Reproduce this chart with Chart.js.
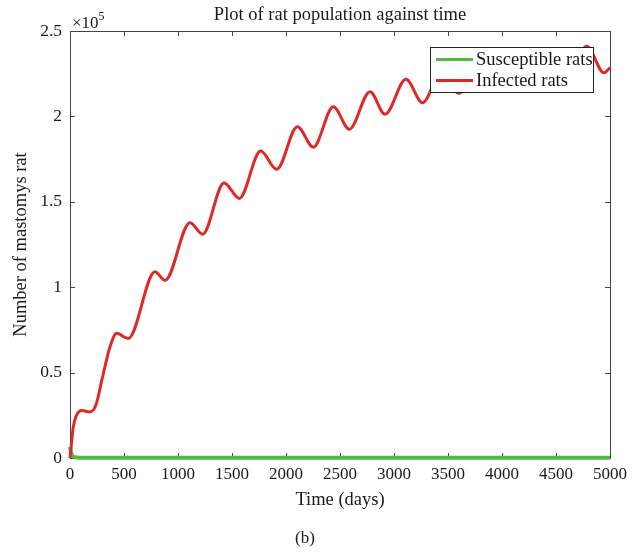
<!DOCTYPE html>
<html>
<head>
<meta charset="utf-8">
<script src="https://cdn.jsdelivr.net/npm/chart.js@4.4.0/dist/chart.umd.min.js"></script>
<style>
  html, body { margin: 0; padding: 0; background: #fff; }
</style>
</head>
<body>
<canvas id="ratChart" width="635" height="554"></canvas>
<script>
  // values (rats, days)
  const infectedDays = [0, 30, 60, 110, 185, 240, 300, 370, 432, 540, 787, 880, 1111, 1228, 1426, 1568,
    1765, 1914, 2105, 2253, 2438, 2586, 2778, 2917, 3111, 3265, 3445, 3600, 3780, 3935, 4115, 4270,
    4450, 4610, 4785, 4945, 5000];
  const infectedRats = [0, 18000, 25000, 27800, 27000, 31000, 47000, 65000, 73000, 70000, 109000, 104000,
    137800, 131000, 161000, 152000, 179700, 169000, 194000, 182000, 205700, 192500, 214500, 201200,
    221700, 208000, 227000, 213500, 231000, 218000, 234500, 221000, 237500, 224000, 241000, 225500, 228500];

  const susceptibleDays = [0, 10, 25, 50, 100, 200, 500, 1000, 1500, 2000, 2500, 3000, 3500, 4000, 4500, 5000];
  const susceptibleRats = [6500, 3000, 1000, 400, 200, 120, 100, 100, 100, 100, 100, 100, 100, 100, 100, 100];

  const xTicks = [0, 500, 1000, 1500, 2000, 2500, 3000, 3500, 4000, 4500, 5000];
  const yTicks = [0, 50000, 100000, 150000, 200000, 250000];

  const serif = "'Liberation Serif', 'Times New Roman', serif";
  const ink = '#1a1a1a';

  const toPoints = (xs, ys) => xs.map((x, i) => ({ x: x, y: ys[i] }));

  // MATLAB style box with inward ticks
  const boxTicks = {
    id: 'boxTicks',
    beforeDatasetsDraw(chart) {
      const { ctx, chartArea: a, scales } = chart;
      const len = 5;
      ctx.save();
      ctx.strokeStyle = '#444';
      ctx.lineWidth = 1;
      ctx.strokeRect(a.left + 0.5, a.top + 0.5, a.right - a.left, a.bottom - a.top);
      ctx.beginPath();
      xTicks.forEach(v => {
        const px = Math.round(scales.x.getPixelForValue(v)) + 0.5;
        ctx.moveTo(px, a.bottom); ctx.lineTo(px, a.bottom - len);
        ctx.moveTo(px, a.top); ctx.lineTo(px, a.top + len);
      });
      yTicks.forEach(v => {
        const py = Math.round(scales.y.getPixelForValue(v)) + 0.5;
        ctx.moveTo(a.left, py); ctx.lineTo(a.left + len, py);
        ctx.moveTo(a.right, py); ctx.lineTo(a.right - len, py);
      });
      ctx.stroke();

      // exponent label
      ctx.fillStyle = ink;
      ctx.textBaseline = 'alphabetic';
      ctx.textAlign = 'left';
      ctx.font = '17px ' + serif;
      ctx.fillText('\u00d710', a.left + 2, a.top - 3);
      const w = ctx.measureText('\u00d710').width;
      ctx.font = '12px ' + serif;
      ctx.fillText('5', a.left + 2 + w, a.top - 11);
      ctx.restore();
    }
  };

  // boxed legend inside the plot, top right
  const boxLegend = {
    id: 'boxLegend',
    afterDatasetsDraw(chart) {
      const { ctx } = chart;
      const bx = 430, by = 47, bw = 163, bh = 45;
      ctx.save();
      ctx.fillStyle = '#fff';
      ctx.fillRect(bx, by, bw, bh);
      ctx.strokeStyle = '#222';
      ctx.lineWidth = 1;
      ctx.strokeRect(bx + 0.5, by + 0.5, bw, bh);
      ctx.font = '18.5px ' + serif;
      ctx.textBaseline = 'middle';
      ctx.textAlign = 'left';
      chart.data.datasets.forEach((ds, i) => {
        const y = by + 12.5 + i * 21;
        ctx.strokeStyle = ds.borderColor;
        ctx.lineWidth = 3;
        ctx.beginPath();
        ctx.moveTo(bx + 6, y);
        ctx.lineTo(bx + 43, y);
        ctx.stroke();
        ctx.fillStyle = ink;
        ctx.fillText(ds.label, bx + 46, y + 1);
      });
      ctx.restore();
    }
  };

  const ctx = document.getElementById('ratChart').getContext('2d');
  new Chart(ctx, {
    type: 'line',
    data: {
      datasets: [
        {
          label: 'Susceptible rats',
          data: toPoints(susceptibleDays, susceptibleRats),
          borderColor: '#4cbb47',
          borderWidth: 4,
          pointRadius: 0,
          cubicInterpolationMode: 'monotone',
          clip: 6,
          order: 1
        },
        {
          label: 'Infected rats',
          data: toPoints(infectedDays, infectedRats),
          borderColor: '#de2a26',
          borderWidth: 3,
          pointRadius: 0,
          cubicInterpolationMode: 'monotone',
          clip: 6,
          order: 0
        }
      ]
    },
    options: {
      responsive: false,
      animation: false,
      layout: { padding: { left: 0, right: 25, top: 0, bottom: 0 } },
      scales: {
        x: {
          type: 'linear',
          min: 0,
          max: 5000,
          afterBuildTicks: s => { s.ticks = xTicks.map(v => ({ value: v })); },
          afterFit: s => { s.height = 66.6; },
          grid: { display: false, drawTicks: false },
          border: { display: false },
          ticks: {
            color: ink,
            padding: 6,
            maxRotation: 0,
            font: { family: serif, size: 17 },
            callback: v => String(v)
          },
          title: {
            display: true,
            text: 'Time (days)',
            color: ink,
            font: { family: serif, size: 18.5 },
            padding: { top: 0, bottom: 13.5 }
          }
        },
        y: {
          min: 0,
          max: 250000,
          afterBuildTicks: s => { s.ticks = yTicks.map(v => ({ value: v })); },
          afterFit: s => { s.width = 70; },
          grid: { display: false, drawTicks: false },
          border: { display: false },
          ticks: {
            color: ink,
            padding: 8,
            font: { family: serif, size: 17.5 },
            callback: v => String(v / 100000)
          },
          title: {
            display: true,
            text: 'Number of mastomys rat',
            color: ink,
            font: { family: serif, size: 18.5 },
            padding: { top: 10, bottom: 0 }
          }
        }
      },
      plugins: {
        legend: { display: false },
        tooltip: { enabled: false },
        title: {
          display: true,
          fullSize: false,
          text: 'Plot of rat population against time',
          color: ink,
          font: { family: serif, size: 18.5, weight: 'normal' },
          padding: { top: 4, bottom: 4.8 }
        },
        subtitle: {
          display: true,
          position: 'bottom',
          text: '(b)',
          color: ink,
          font: { family: serif, size: 17 },
          padding: { top: 4, bottom: 5 }
        }
      }
    },
    plugins: [boxTicks, boxLegend]
  });
</script>
</body>
</html>
